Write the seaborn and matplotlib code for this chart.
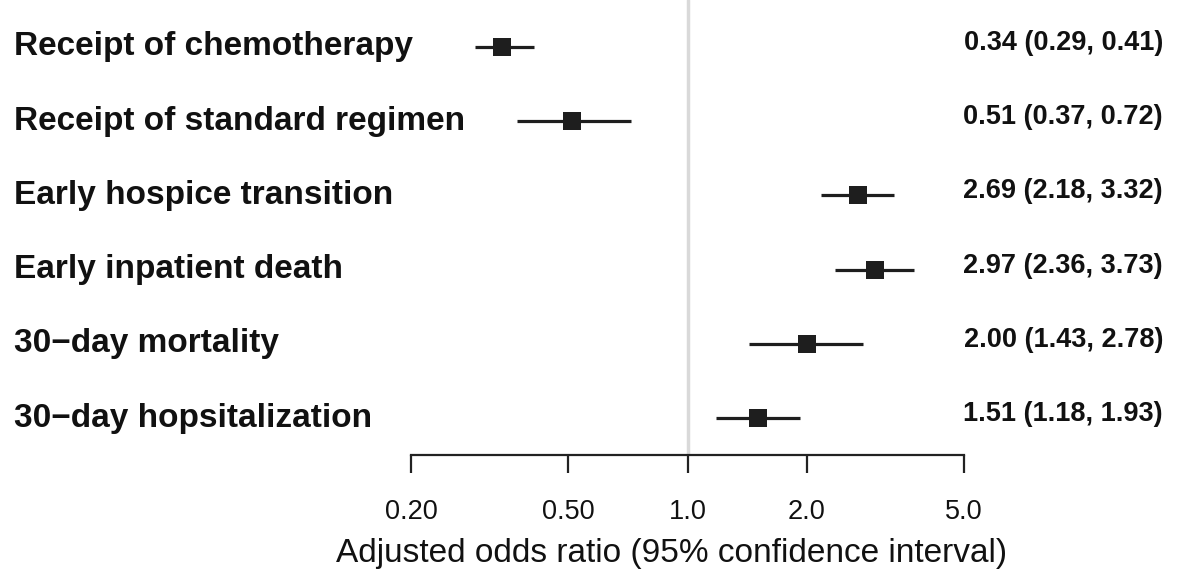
import numpy as np
import pandas as pd
import matplotlib
matplotlib.use("Agg")
import matplotlib.pyplot as plt
import matplotlib.transforms as mtransforms
import seaborn as sns

# Forest plot data
outcomes = [
    "Receipt of chemotherapy",
    "Receipt of standard regimen",
    "Early hospice transition",
    "Early inpatient death",
    "30\u2212day mortality",
    "30\u2212day hopsitalization",
]
odds_ratio = [0.34, 0.51, 2.69, 2.97, 2.00, 1.51]
ci_low = [0.29, 0.37, 2.18, 2.36, 1.43, 1.18]
ci_high = [0.41, 0.72, 3.32, 3.73, 2.78, 1.93]
tick_values = [0.2, 0.5, 1.0, 2.0, 5.0]
tick_labels = ["0.20", "0.50", "1.0", "2.0", "5.0"]

df = pd.DataFrame({
    "outcome": outcomes,
    "row": np.arange(len(outcomes)),
    "or": odds_ratio,
    "lo": ci_low,
    "hi": ci_high,
})

sns.set_style("white")
plt.rcParams["font.family"] = ["Liberation Sans", "DejaVu Sans"]

W, H = 1178, 574
fig = plt.figure(figsize=(W / 100, H / 100), dpi=100)
ax = fig.add_axes([0, (H - 455) / H, 1, 455 / H])

# log x scale mapped so 0.2 -> 411px and 5 -> 964px
px_per_dec = (964 - 411) / np.log10(25)
left = np.log10(0.2) - 411 / px_per_dec
right = np.log10(0.2) + (W - 411) / px_per_dec
ax.set_xscale("log")
ax.set_xlim(10 ** left, 10 ** right)
row_gap = (418 - 47) / 5
ax.set_ylim((455 - 47) / row_gap, -47 / row_gap)

# reference line at 1
ax.axvline(1.0, color="#d9d9d9", lw=2.5, zorder=0)

# confidence intervals and point estimates
ax.hlines(df["row"], df["lo"], df["hi"], color="#1e1e1e", lw=2.3, zorder=2)
sns.scatterplot(data=df, x="or", y="row", marker="s", s=150, color="#1e1e1e",
                edgecolor="#1e1e1e", linewidth=0, zorder=3, ax=ax, legend=False)

# outcome labels and estimate text
trans = mtransforms.blended_transform_factory(ax.transAxes, ax.transData)
for _, r in df.iterrows():
    ax.text(14 / W, r["row"], r["outcome"], transform=trans, ha="left",
            va="center", fontsize=24, fontweight="bold", color="#111111")
    ax.text(1163 / W, r["row"] - 4 / row_gap,
            f"{r['or']:.2f} ({r['lo']:.2f}, {r['hi']:.2f})",
            transform=trans, ha="right", va="center", fontsize=19.5,
            fontweight="bold", color="#111111")

# R-style bottom axis
for side in ["top", "right", "left"]:
    ax.spines[side].set_visible(False)
ax.spines["bottom"].set_bounds(0.2, 5.0)
ax.spines["bottom"].set_linewidth(1.6)
ax.spines["bottom"].set_color("#222222")
ax.set_xticks(tick_values)
ax.set_xticklabels(tick_labels)
ax.xaxis.set_minor_locator(matplotlib.ticker.NullLocator())
ax.tick_params(axis="x", direction="out", length=13, width=1.6, color="#222222",
               labelsize=19.5, pad=19, bottom=True, labelcolor="#111111")
ax.set_yticks([])
ax.set_xlabel("")
ax.set_ylabel("")

fig.text(672 / W, 1 - 562 / H, "Adjusted odds ratio (95% confidence interval)",
         ha="center", va="baseline", fontsize=24, color="#111111")

fig.savefig("out.png", dpi=100, facecolor="white")
